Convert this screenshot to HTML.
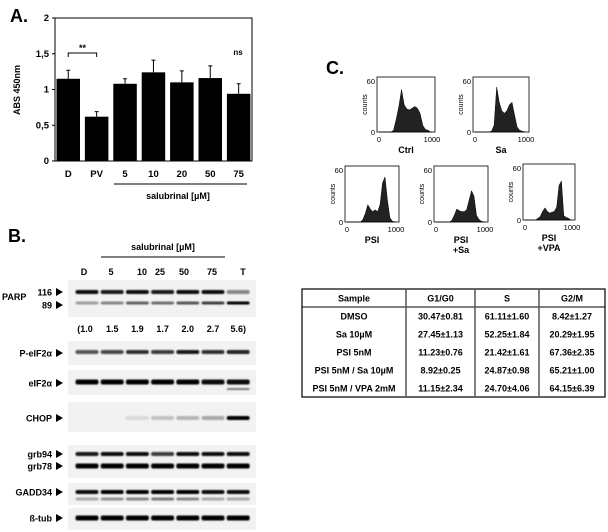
<!DOCTYPE html>
<html><head><meta charset="utf-8"><style>
html,body{margin:0;padding:0;background:#fff}
svg{display:block;font-family:"Liberation Sans",Arial,sans-serif;font-weight:bold}
</style></head><body>
<svg id="fig" width="608" height="532" viewBox="0 0 608 532">
<defs><filter id="blur" x="-20%" y="-100%" width="140%" height="300%"><feGaussianBlur stdDeviation="0.9"/></filter></defs>
<g id="panelA"></g>
<g id="panelB"></g>
<g id="panelC"></g>
<g id="table"></g>
</svg>
<script>
// ---- Panel A data
const barCategories = ["D","PV","5","10","20","50","75"];
const barValues = [1.15,0.62,1.08,1.24,1.10,1.16,0.94];
const barErrors = [0.12,0.07,0.07,0.17,0.16,0.17,0.14];
const yTicks = [0,0.5,1,1.5,2];
const yTickLabels = ["0","0,5","1","1,5","2"];
// ---- Panel B data
const laneLabels = ["D","5","10","25","50","75","T"];
const parpRatios = ["(1.0","1.5","1.9","1.7","2.0","2.7","5.6)"];
const parp116 = [0.95,0.9,0.95,0.9,0.95,0.95,0.45];
const parp89 = [0.35,0.45,0.6,0.55,0.65,0.75,1];
const peif2a = [0.65,0.7,0.8,0.75,0.9,0.8,0.85];
const eif2a = [1,1,1,1,1,0.95,0.95];
const chop = [0,0,0.1,0.2,0.25,0.3,1];
const grb94 = [0.9,0.95,0.95,0.75,0.95,0.95,0.95];
const grb78 = [1,1,1,1,1,1,1];
const gadd34 = [0.95,1,1,1,1,0.95,0.95];
const gadd34b = [0.3,0.4,0.45,0.5,0.45,0.3,0.3];
const btub = [1,1,1,1,1,1,1];
// ---- Panel C data (counts per 50-unit bin, 0..1000)
const histCtrl = [0,0,0,0,0,2,15,30,50,32,27,26,28,30,28,22,8,3,2,0];
const histSa = [0,0,0,0,0,0,1,8,53,35,25,22,25,32,35,20,6,2,1,0];
const histPSI = [0,0,0,0,0,0,3,10,20,15,12,14,12,20,45,52,25,5,1,0];
const histPSISa = [0,0,0,0,0,0,2,8,15,13,12,12,14,25,36,30,8,3,1,0];
const histPSIVPA = [0,0,0,0,0,2,4,10,14,10,8,9,10,15,40,45,5,3,2,0];
// ---- Table data
const tableHeader = ["Sample","G1/G0","S","G2/M"];
const tableRows = [
 ["DMSO","30.47±0.81","61.11±1.60","8.42±1.27"],
 ["Sa 10µM","27.45±1.13","52.25±1.84","20.29±1.95"],
 ["PSI 5nM","11.23±0.76","21.42±1.61","67.36±2.35"],
 ["PSI 5nM / Sa 10µM","8.92±0.25","24.87±0.98","65.21±1.00"],
 ["PSI 5nM / VPA 2mM","11.15±2.34","24.70±4.06","64.15±6.39"]];

const NS="http://www.w3.org/2000/svg";
function mk(parent,tag,attrs,text){const e=document.createElementNS(NS,tag);for(const k in attrs)e.setAttribute(k,attrs[k]);if(text!==undefined)e.textContent=text;parent.appendChild(e);return e;}

// ===== Panel A
(function(){
 const g=document.getElementById('panelA');
 const x0=55,x1=252,yTop=18,yBot=161;
 const y=v=>yBot-(v/2)*(yBot-yTop);
 const step=28.4,bw=23.5,bx=i=>56.5+i*step;
 let t=mk(g,'text',{x:10,y:22,'font-size':18},'A.');
 
 let ax=mk(g,'rect',{x:x0,y:yTop,width:x1-x0,height:yBot-yTop,fill:'none',stroke:'#000','stroke-width':1});
 
 yTicks.forEach((v,i)=>{
  let l=mk(g,'line',{x1:x0-3,x2:x0,y1:y(v),y2:y(v),stroke:'#000'});
  
  let tt=mk(g,'text',{x:x0-6,y:y(v)+3,'font-size':9.5,'text-anchor':'end'},yTickLabels[i]);
  
 });
 let yl=mk(g,'text',{x:0,y:0,'font-size':9,'text-anchor':'middle',transform:'translate(20,90) rotate(-90)'},'ABS 450nm');
 
 barCategories.forEach((c,i)=>{
  const cx=bx(i)+bw/2;
  let r=mk(g,'rect',{x:bx(i),y:y(barValues[i]),width:bw,height:yBot-y(barValues[i]),fill:'#000'});
  
  const ye=y(barValues[i]+barErrors[i]);
  let e=mk(g,'path',{d:`M${cx} ${y(barValues[i])}V${ye}M${cx-2} ${ye}H${cx+2}`,stroke:'#000','stroke-width':1,fill:'none'});
  
  let lb=mk(g,'text',{x:cx,y:177,'font-size':9.5,'text-anchor':'middle'},c);
  
 });
 let br=mk(g,'path',{d:`M${bx(0)+bw/2} 57V53H${bx(1)+bw/2}V57`,stroke:'#000',fill:'none'});
 
 let st=mk(g,'text',{x:(bx(0)+bx(1))/2+bw/2,y:51,'font-size':9,'text-anchor':'middle'},'**');
 
 let ns=mk(g,'text',{x:238,y:55,'font-size':8,'text-anchor':'middle'},'ns');
 
 let ul=mk(g,'line',{x1:114,x2:247,y1:184,y2:184,stroke:'#000'});
 
 let sl=mk(g,'text',{x:178,y:199,'font-size':9,'text-anchor':'middle'},'salubrinal [µM]');
 
})();

// ===== Panel B
(function(){
 const g=document.getElementById('panelB');
 const lx=i=>87+i*25.2;
 let t=mk(g,'text',{x:8,y:242,'font-size':18},'B.');
 
 let s=mk(g,'text',{x:163,y:250,'font-size':9,'text-anchor':'middle'},'salubrinal [µM]');
 
 let ln=mk(g,'line',{x1:101,x2:225,y1:257,y2:257,stroke:'#000'});
 
 const labelX=[84,111,142,160,184,212,243];
 laneLabels.forEach((l,i)=>{let e=mk(g,'text',{x:labelX[i],y:275,'font-size':9,'text-anchor':'middle'},l);
  });
 parpRatios.forEach((l,i)=>{let e=mk(g,'text',{x:lx(i)-(i==0?2:0),y:332,'font-size':9,'text-anchor':'middle'},l);
  });
 function box(y0,y1,name){let r=mk(g,'rect',{x:68,y:y0,width:188,height:y1-y0,fill:'#f2f2f2'});
  }
 function bands(arr,yc,h,name){arr.forEach((v,i)=>{if(v<=0)return;
  let b=mk(g,'rect',{x:lx(i)-11.5,y:yc-h/2,width:23,height:h,rx:2,fill:'#000','fill-opacity':v,filter:'url(#blur)'});
  });}
 function label(txt,x,yc,name){let e=mk(g,'text',{x:x,y:yc+3.5,'font-size':9,'text-anchor':'end'},txt);
  
  let a=mk(g,'path',{d:`M${x+4} ${yc-4}L${x+11} ${yc}L${x+4} ${yc+4}Z`,fill:'#000'});
  }
 box(280,317,'parp');bands(parp116,292,4,'parp116');bands(parp89,303,3,'parp89');
 let p=mk(g,'text',{x:2,y:300,'font-size':9},'PARP');
 label('116',52,292,'parp116');label('89',52,305,'parp89');
 box(341,365,'p-eif2a');bands(peif2a,352,4,'p-eif2a');label('P-eIF2α',52,353,'p-eif2a');
 box(370,395,'eif2a');bands(eif2a,382,5,'eif2a');bands([0,0,0,0,0,0,0.5],389,2,'eif2a-lower');label('eIF2α',52,383,'eif2a');
 box(402,432,'chop');bands(chop,418,4,'chop');label('CHOP',52,418,'chop');
 box(445,478,'grb');bands(grb94,454,4,'grb94');bands(grb78,466,5,'grb78');label('grb94',52,454,'grb94');label('grb78',52,466,'grb78');
 box(483,505,'gadd34');bands(gadd34,492,4,'gadd34');bands(gadd34b,499,3,'gadd34-lower');label('GADD34',52,492,'gadd34');
 box(508,530,'btub');bands(btub,518,5,'btub');label('ß-tub',52,518,'btub');
})();

// ===== Panel C
(function(){
 const g=document.getElementById('panelC');
 let t=mk(g,'text',{x:326,y:74,'font-size':18},'C.');
 
 const hists=[
  {d:histCtrl,x:377,y:77,w:58,h:55,lab:['Ctrl'],n:'ctrl'},
  {d:histSa,x:473,y:77,w:56,h:55,lab:['Sa'],n:'sa'},
  {d:histPSI,x:345,y:166,w:54,h:56,lab:['PSI'],n:'psi'},
  {d:histPSISa,x:434,y:166,w:54,h:56,lab:['PSI','+Sa'],n:'psi-sa'},
  {d:histPSIVPA,x:523,y:164,w:52,h:56,lab:['PSI','+VPA'],n:'psi-vpa'}];
 hists.forEach(H=>{
  const hg=mk(g,'g',{});
  const x0=H.x+2,x1=H.x+H.w-3;
  const sx=v=>x0+(v/1000)*(x1-x0), sy=c=>H.y+H.h-(c/60)*(H.h-4);
  let d=`M${sx(0)} ${sy(0)}`;
  H.d.forEach((c,i)=>{d+=`L${sx(i*50+25)} ${sy(c)}`;});
  d+=`L${sx(1000)} ${sy(0)}Z`;
  let a=mk(hg,'path',{d:d,fill:'#222',stroke:'#000','stroke-width':0.5});
  
  let f=mk(hg,'rect',{x:H.x,y:H.y,width:H.w,height:H.h,fill:'none',stroke:'#000','stroke-width':0.8});
  
  [[0,'0'],[60,'60']].forEach(([c,l])=>{let e=mk(hg,'text',{x:H.x-2,y:sy(c)+3,'font-size':7.5,'font-weight':'normal','text-anchor':'end'},l);
   });
  [[0,'0'],[1000,'1000']].forEach(([v,l])=>{let e=mk(hg,'text',{x:sx(v),y:H.y+H.h+10,'font-size':7.5,'font-weight':'normal','text-anchor':'middle'},l);
   });
  let yl=mk(hg,'text',{x:0,y:0,'font-size':7,'font-weight':'normal','text-anchor':'middle',transform:`translate(${H.x-10},${H.y+H.h/2}) rotate(-90)`},'counts');
  
  H.lab.forEach((l,i)=>{let e=mk(hg,'text',{x:H.x+H.w/2,y:H.y+H.h+21+i*10,'font-size':9,'text-anchor':'middle'},l);
   });
 });
})();

// ===== Table
(function(){
 const g=document.getElementById('table');
 const cols=[302,406,475,539,605], top=289, rh=18;
 const n=tableRows.length+1;
 let fr=mk(g,'rect',{x:302,y:top,width:303,height:rh*n,fill:'#fff',stroke:'#000','stroke-width':1.2});
 
 let hl=mk(g,'line',{x1:302,x2:605,y1:top+rh,y2:top+rh,stroke:'#000'});
 
 cols.slice(1,4).forEach(c=>{let l=mk(g,'line',{x1:c,x2:c,y1:top,y2:top+rh*n,stroke:'#555','stroke-width':1.5});
  });
 [tableHeader].concat(tableRows).forEach((row,r)=>{row.forEach((v,c)=>{
  let e=mk(g,'text',{x:(cols[c]+cols[c+1])/2,y:top+r*rh+12.5,'font-size':9,'text-anchor':'middle'},v);
  });});
})();
</script>
</body></html>
